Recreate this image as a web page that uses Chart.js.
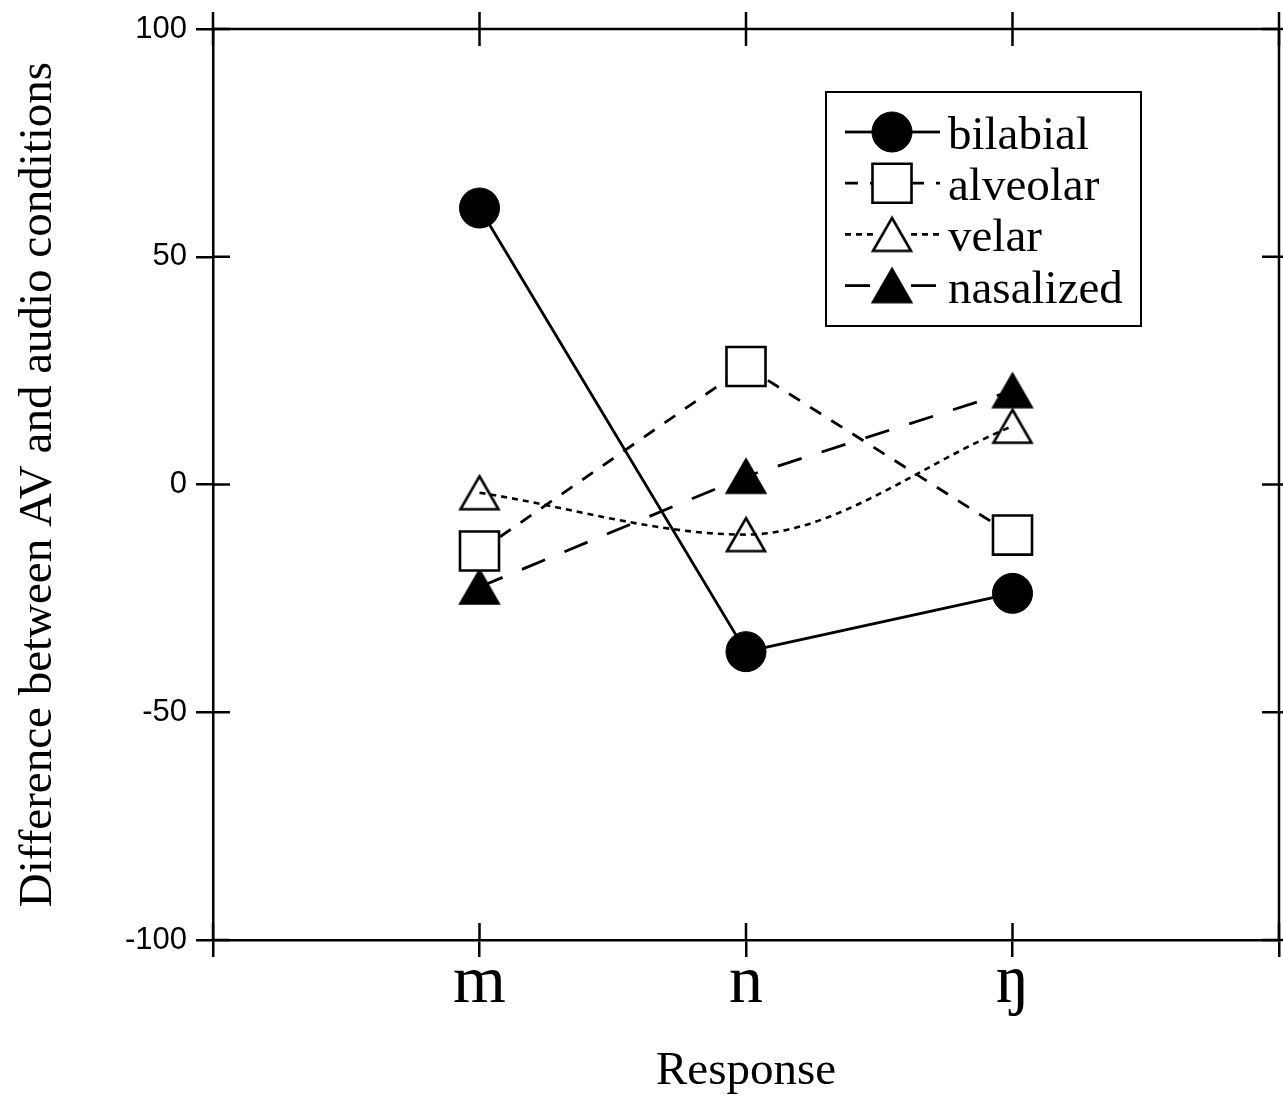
<!DOCTYPE html>
<html>
<head>
<meta charset="utf-8">
<script src="https://cdn.jsdelivr.net/npm/chart.js@4.4.0/dist/chart.umd.min.js"></script>
<style>
  body { margin: 0; background: #fff; }
  #wrap { width: 1283px; height: 1097px; }
</style>
</head>
<body>
<div id="wrap"><canvas id="myChart" width="1283" height="1097"></canvas></div>
<script>
const categories = ['m', 'n', 'ŋ'];
const seriesNames = ['bilabial', 'alveolar', 'velar', 'nasalized'];
const bilabial = [60.7, -36.7, -23.9];
const alveolar = [-14.6, 25.9, -11.1];
const velar = [-1.8, -11, 12.8];
const nasalized = [-22.5, 1.8, 20.6];
const yTicks = [-100, -50, 0, 50, 100];

const SERIF = '"Liberation Serif", "Times New Roman", serif';
const SANS = '"Liberation Sans", Arial, sans-serif';
const TICK = 17;

// triangles centred on their bounding box, like the original
function makeTriangle(filled) {
    const c = document.createElement('canvas');
    c.width = 48;
    c.height = 44;
    const g = c.getContext('2d');
    const w = 38, h = 33, cx = 24, cy = 22;
    g.lineWidth = 2.6;
    g.beginPath();
    g.moveTo(cx, cy - h / 2);
    g.lineTo(cx + w / 2, cy + h / 2);
    g.lineTo(cx - w / 2, cy + h / 2);
    g.closePath();
    if (filled) {
        g.fillStyle = '#000';
        g.fill();
    }
    g.strokeStyle = '#000';
    g.stroke();
    return c;
}
const openTri = makeTriangle(false);
const filledTri = makeTriangle(true);

function toPoints(arr) {
    return arr.map(function (v, i) { return { x: i + 1, y: v }; });
}

const frameAndLegend = {
    id: 'frameAndLegend',
    afterDatasetsDraw(chart) {
        const { ctx, chartArea: a, scales: { x, y } } = chart;
        ctx.save();
        ctx.strokeStyle = '#000';
        ctx.lineWidth = 2.5;
        function line(x1, y1, x2, y2) {
            ctx.beginPath();
            ctx.moveTo(x1, y1);
            ctx.lineTo(x2, y2);
            ctx.stroke();
        }
        // top and right frame
        line(a.left, a.top, a.right, a.top);
        line(a.right, a.top, a.right, a.bottom);
        x.ticks.forEach(function (t) {
            const px = x.getPixelForValue(t.value);
            line(px, a.bottom, px, a.bottom - TICK);
            line(px, a.top - TICK, px, a.top + TICK);
        });
        y.ticks.forEach(function (t) {
            const py = y.getPixelForValue(t.value);
            line(a.left, py, a.left + TICK, py);
            line(a.right - TICK, py, a.right + TICK, py);
        });

        // legend
        ctx.lineWidth = 2;
        ctx.strokeRect(826, 92, 315, 234);
        chart.data.datasets.forEach(function (ds, i) {
            const rowY = 132 + i * 51.2;
            ctx.strokeStyle = '#000';
            ctx.lineWidth = ds.borderWidth;
            ctx.setLineDash(ds.borderDash || []);
            line(845, rowY, 874, rowY);
            line(911, rowY, 940, rowY);
            ctx.setLineDash([]);
            if (ds.pointStyle instanceof HTMLCanvasElement) {
                ctx.drawImage(ds.pointStyle, 892 - ds.pointStyle.width / 2, rowY - ds.pointStyle.height / 2);
            } else {
                ctx.fillStyle = ds.pointBackgroundColor;
                ctx.strokeStyle = ds.pointBorderColor;
                ctx.lineWidth = ds.pointBorderWidth;
                Chart.helpers.drawPoint(ctx, {
                    pointStyle: ds.pointStyle,
                    radius: ds.pointRadius,
                    borderWidth: ds.pointBorderWidth,
                    rotation: 0
                }, 892, rowY);
            }
            ctx.fillStyle = '#000';
            ctx.font = '47px ' + SERIF;
            ctx.textBaseline = 'alphabetic';
            ctx.textAlign = 'left';
            ctx.fillText(ds.label, 948, rowY + 17);
        });
        ctx.restore();
    }
};

const gridOpts = {
    drawOnChartArea: false,
    drawTicks: true,
    tickLength: TICK,
    color: '#000',
    lineWidth: 2.5
};

const ctx = document.getElementById('myChart').getContext('2d');
const myChart = new Chart(ctx, {
    type: 'line',
    data: {
        datasets: [{
            label: seriesNames[0],
            data: toPoints(bilabial),
            borderColor: '#000',
            borderWidth: 2.8,
            pointStyle: 'circle',
            pointRadius: 20,
            pointBackgroundColor: '#000',
            pointBorderColor: '#000',
            pointBorderWidth: 1
        }, {
            label: seriesNames[1],
            data: toPoints(alveolar),
            borderColor: '#000',
            borderWidth: 2.8,
            borderDash: [13, 12],
            pointStyle: 'rect',
            pointRadius: 27.6,
            pointBackgroundColor: '#fff',
            pointBorderColor: '#000',
            pointBorderWidth: 2.6
        }, {
            label: seriesNames[2],
            data: toPoints(velar),
            borderColor: '#000',
            borderWidth: 2.6,
            borderDash: [6, 5],
            cubicInterpolationMode: 'monotone',
            pointStyle: openTri,
            pointRadius: 20
        }, {
            label: seriesNames[3],
            data: toPoints(nasalized),
            borderColor: '#000',
            borderWidth: 2.8,
            borderDash: [25, 21],
            pointStyle: filledTri,
            pointRadius: 20
        }]
    },
    options: {
        responsive: false,
        animation: false,
        layout: { autoPadding: false, padding: { top: 29, right: 4, left: 0, bottom: 0 } },
        plugins: {
            legend: { display: false },
            tooltip: { enabled: false }
        },
        scales: {
            x: {
                type: 'linear',
                min: 0,
                max: categories.length + 1,
                afterBuildTicks: function (s) {
                    const vals = [0];
                    categories.forEach(function (c, i) { vals.push(i + 1); });
                    vals.push(categories.length + 1);
                    s.ticks = vals.map(function (v) { return { value: v }; });
                },
                ticks: {
                    callback: function (v) { return categories[v - 1] || ''; },
                    font: { family: SERIF, size: 68 },
                    color: '#000',
                    padding: -14,
                    maxRotation: 0,
                    autoSkip: false
                },
                grid: gridOpts,
                border: { display: true, color: '#000', width: 2.5 },
                title: {
                    display: true,
                    text: 'Response',
                    font: { family: SERIF, size: 47 },
                    color: '#000',
                    padding: { top: 0, bottom: -3 }
                },
                afterFit: function (s) {
                    s.height = 157;
                    s.paddingLeft = 0;
                    s.paddingRight = 0;
                }
            },
            y: {
                min: -100,
                max: 100,
                afterBuildTicks: function (s) {
                    s.ticks = yTicks.map(function (v) { return { value: v }; });
                },
                ticks: {
                    font: { family: SANS, size: 31 },
                    color: '#000',
                    padding: 9
                },
                grid: gridOpts,
                border: { display: true, color: '#000', width: 2.5 },
                title: {
                    display: true,
                    text: 'Difference between AV and audio conditions',
                    font: { family: SERIF, size: 47 },
                    color: '#000',
                    padding: { top: 10, bottom: 0 }
                },
                afterFit: function (s) { s.width = 213; }
            }
        }
    },
    plugins: [frameAndLegend]
});
</script>
</body>
</html>
